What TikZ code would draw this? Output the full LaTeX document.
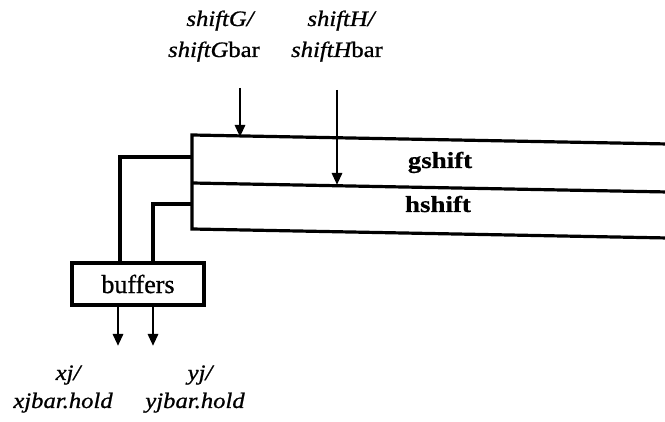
\documentclass[tikz,border=0pt]{standalone}
\usepackage{fontspec}
\setmainfont{Liberation Serif}
\newfontfamily\labfont[FakeStretch=1.12,FakeBold=0.9]{Liberation Serif}
\newfontfamily\regfont[FakeStretch=1.17,FakeBold=0.6]{Liberation Serif}
\newfontfamily\boxfont[FakeBold=0.8]{Liberation Serif}
\usetikzlibrary{arrows.meta}
\begin{document}
\begin{tikzpicture}[x=1pt,y=-1pt,
  wire/.style={line width=3.2pt},
  sig/.style={line width=2.8pt,-{Triangle[length=12pt,width=10pt]}},
  lab/.style={anchor=base,inner sep=0pt,font=\labfont\itshape\fontsize{22}{26}\selectfont},
  regname/.style={anchor=base,inner sep=0pt,font=\regfont\bfseries\fontsize{23}{26}\selectfont},
  bufbox/.style={draw,line width=3.2pt,minimum width=132pt,minimum height=42pt,inner sep=0pt,
    font=\boxfont\fontsize{26}{28}\selectfont}]
\useasboundingbox (0,0) rectangle (665,422);

% shift register block (open to the right)
\coordinate (tl) at (192,135);
\coordinate (ml) at (192,183);
\coordinate (bl) at (192,229);
\coordinate (tr) at (668,144);
\coordinate (mr) at (668,192);
\coordinate (br) at (668,238);
\draw[wire] (tr) -- (tl) -- (bl) -- (br);
\draw[wire] (ml) -- (mr);
\node[regname] (gs) at (440,168) {gshift};
\node[regname] (hs) at (438,212) {hshift};

% buffers and their connections to the registers
\node[bufbox] (buf) at (138,284) {buffers};
\coordinate (gL) at (192,157);
\coordinate (hL) at (192,204);
\draw[wire] (gL) -| ([xshift=-18pt]buf.north);
\draw[wire] (hL) -| ([xshift=15pt]buf.north);

% outputs of the buffers
\coordinate (xo) at (118,346);
\coordinate (yo) at (153,346);
\draw[sig] ([xshift=-20pt]buf.south) -- (xo);
\draw[sig] ([xshift=15pt]buf.south) -- (yo);
\node[lab] (x1) at (68,380) {xj/};
\node[lab] (x2) at (63,408) {xjbar.hold};
\node[lab] (y1) at (200,380) {yj/};
\node[lab] (y2) at (195,408) {yjbar.hold};

% shift control inputs
\node[lab] (g1) at (220,26) {shiftG/};
\node[lab] (g2) at (214,57) {shiftG{\upshape bar}};
\node[lab] (h1) at (341,26) {shiftH/};
\node[lab] (h2) at (337,57) {shiftH{\upshape bar}};
\coordinate (gin) at (240,88);
\coordinate (gtop) at (240,137);
\coordinate (hin) at (337,90);
\coordinate (hmid) at (337,185);
\draw[sig] (gin) -- (gtop);
\draw[sig] (hin) -- (hmid);
\end{tikzpicture}
\end{document}
